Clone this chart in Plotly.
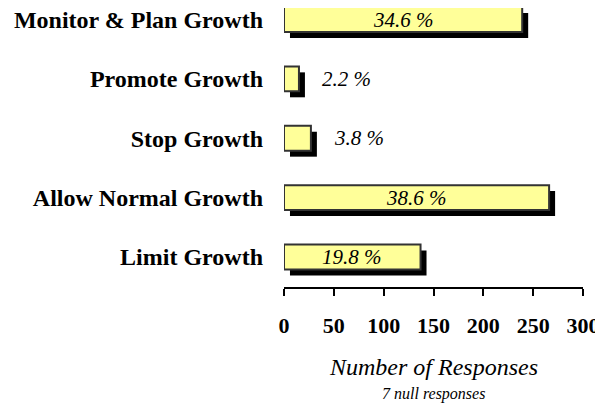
import plotly.graph_objects as go

categories = ["Monitor & Plan Growth", "Promote Growth", "Stop Growth",
              "Allow Normal Growth", "Limit Growth"]
responses = [239, 15, 27, 266, 137]
percent_labels = ["34.6 %", "2.2 %", "3.8 %", "38.6 %", "19.8 %"]
x_ticks = [0, 50, 100, 150, 200, 250, 300]
note = "7 null responses"
x_title = "Number of Responses"

FONT = "Liberation Serif"
BAR_W = 0.42
SH_X = 6      # shadow shift in data units (x)
SH_Y = 0.10   # shadow shift in category units (y)

fig = go.Figure()
# shadow
fig.add_trace(go.Bar(
    y=categories, x=responses, base=SH_X, orientation="h",
    width=BAR_W, offset=-BAR_W / 2 + SH_Y,
    marker=dict(color="black", line=dict(width=0)),
    hoverinfo="skip", showlegend=False))
# bars
fig.add_trace(go.Bar(
    y=categories, x=responses, orientation="h",
    width=BAR_W, offset=-BAR_W / 2,
    marker=dict(color="#FFFF99", line=dict(color="#333333", width=2)),
    showlegend=False))

annotations = []
for c, v, t in zip(categories, responses, percent_labels):
    f = dict(family=FONT, size=21, color="black", style="italic")
    if v > 60:
        annotations.append(dict(x=v / 2, y=c, text=t, showarrow=False,
                                xanchor="center", yanchor="middle", font=f))
    else:
        annotations.append(dict(x=v, y=c, text=t, showarrow=False,
                                xanchor="left", yanchor="middle", xshift=21, font=f))
annotations.append(dict(x=0.5, y=0, xref="paper", yref="paper", text=x_title,
                        showarrow=False, xanchor="center", yanchor="middle",
                        yshift=-80,
                        font=dict(family=FONT, size=24, color="black", style="italic")))
annotations.append(dict(x=0.5, y=0, xref="paper", yref="paper", text=note,
                        showarrow=False, xanchor="center", yanchor="middle",
                        yshift=-107,
                        font=dict(family=FONT, size=16, color="black", style="italic")))

fig.update_layout(
    width=603, height=406,
    margin=dict(l=276, r=28.3, t=0, b=127),
    paper_bgcolor="white", plot_bgcolor="white",
    barmode="overlay",
    annotations=annotations,
    xaxis=dict(range=[0, 300], tickvals=x_ticks, showgrid=False, zeroline=False,
               automargin=False,
               showline=True, linecolor="black", linewidth=2,
               ticks="outside", ticklen=7, tickwidth=2, tickcolor="black",
               ticklabelstandoff=11,
               tickfont=dict(family=FONT, size=22, color="black", weight="bold")),
    yaxis=dict(range=[4.505, -0.194], categoryorder="array", categoryarray=categories,
               automargin=False,
               showgrid=False, zeroline=False, showline=False, ticks="",
               ticklabelstandoff=20,
               tickfont=dict(family=FONT, size=24, color="black", weight="bold")),
)

fig.write_html("out.html")
